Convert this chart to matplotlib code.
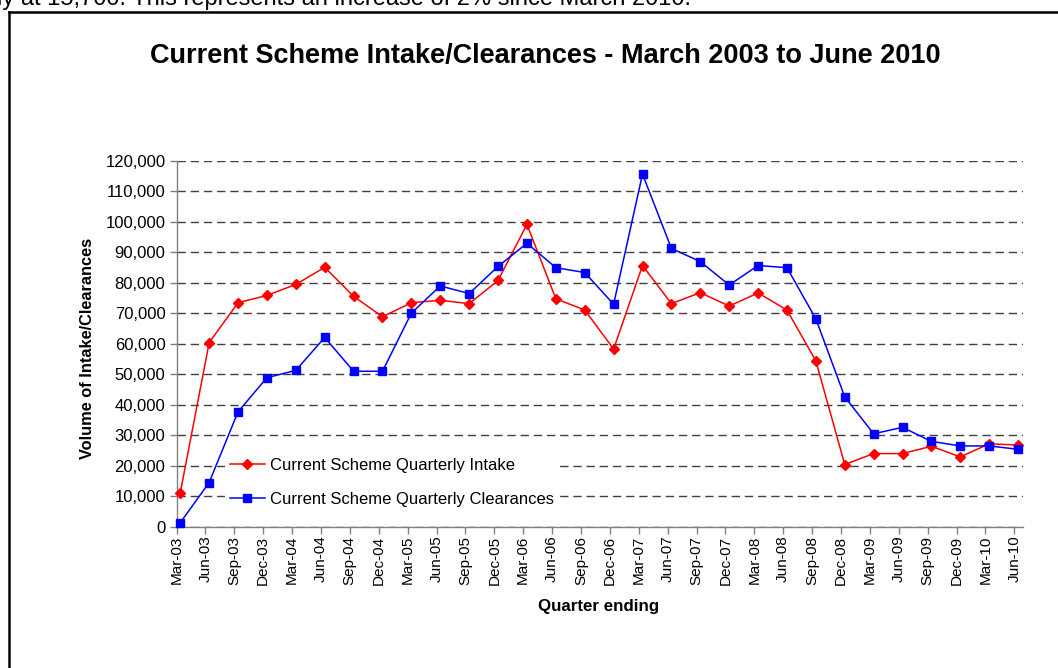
import matplotlib
matplotlib.use("Agg")
import matplotlib.pyplot as plt
from matplotlib.lines import Line2D
from matplotlib.ticker import FuncFormatter, MultipleLocator

plt.rcParams['font.family'] = ['Liberation Sans', 'DejaVu Sans']
plt.rcParams['lines.scale_dashes'] = False

quarters = ["Mar-03", "Jun-03", "Sep-03", "Dec-03", "Mar-04", "Jun-04", "Sep-04", "Dec-04",
            "Mar-05", "Jun-05", "Sep-05", "Dec-05", "Mar-06", "Jun-06", "Sep-06", "Dec-06",
            "Mar-07", "Jun-07", "Sep-07", "Dec-07", "Mar-08", "Jun-08", "Sep-08", "Dec-08",
            "Mar-09", "Jun-09", "Sep-09", "Dec-09", "Mar-10", "Jun-10"]

intake = [11100, 60400, 73500, 75900, 79500, 85100, 75600, 68900,
          73500, 74300, 73200, 80800, 99200, 74800, 71100, 58300,
          85700, 73200, 76800, 72400, 76700, 71100, 54400, 20400,
          24000, 24000, 26400, 22900, 27200, 26800]

clearances = [1300, 14500, 37700, 48900, 51300, 62100, 51000, 51000,
              70100, 79000, 76500, 85400, 93000, 85000, 83400, 73000,
              115700, 91300, 87000, 79300, 85700, 85000, 68200, 42600,
              30500, 32600, 28000, 26500, 26500, 25400]

title = "Current Scheme Intake/Clearances - March 2003 to June 2010"
intake_label = "Current Scheme Quarterly Intake"
clear_label = "Current Scheme Quarterly Clearances"
y_label = "Volume of Intake/Clearances"
x_label = "Quarter ending"
top_text = "ly at 15,700. This represents an increase of 2% since March 2010."

W, H = 1058, 668
fig = plt.figure(figsize=(W / 100, H / 100), dpi=100)
fig.patch.set_facecolor("white")

ax = fig.add_axes([176.5 / W, 1 - 526.7 / H, (1023 - 176.5) / W, (526.7 - 161) / H])

ticks = list(range(len(quarters)))
offset = 0.13
xs = [t + offset for t in ticks]

ax.plot(xs, intake, color="#FF0000", lw=1.1, marker="D", ms=5.2, mec="#FF0000",
        mfc="#FF0000", label=intake_label, zorder=3, clip_on=False)
ax.plot(xs, clearances, color="#0000FF", lw=1.1, marker="s", ms=6, mec="#0000FF",
        mfc="#0000FF", label=clear_label, zorder=3, clip_on=False)

ax.set_xlim(0, 29.3)
ax.set_ylim(0, 120000)
ax.yaxis.set_major_locator(MultipleLocator(10000))
ax.yaxis.set_major_formatter(FuncFormatter(lambda v, p: f"{int(v):,}"))
ax.set_xticks(ticks)
ax.set_xticklabels(quarters, rotation=90, fontsize=11)
ax.tick_params(axis="y", labelsize=12, length=5, width=1, color="#808080", pad=3)
ax.tick_params(axis="x", length=5, width=1, color="#808080", pad=1.5)

ax.grid(axis="y", color="#404040", lw=1.0, linestyle=(0, (6, 3.5)))
ax.set_axisbelow(True)
for s in ["top", "right"]:
    ax.spines[s].set_visible(False)
for s in ["left", "bottom"]:
    ax.spines[s].set_color("#808080")
    ax.spines[s].set_linewidth(1.0)

leg = ax.legend(loc="center left", bbox_to_anchor=(0.057, 0.122), frameon=True,
                fontsize=12, handlelength=2.1, labelspacing=1.14, borderpad=0.3,
                handletextpad=0.3, borderaxespad=0)
leg.get_frame().set_facecolor("white")
leg.get_frame().set_edgecolor("none")
leg.get_frame().set_alpha(1)

fig.text(545 / W, 1 - 63 / H, title, ha="center", va="baseline", fontsize=19.5,
         fontweight="bold")
fig.text(87 / W, 1 - 348.5 / H, y_label, ha="center", va="center", rotation=90,
         fontsize=11.8, fontweight="bold")
fig.text(599 / W, 1 - 607 / H, x_label, ha="center", va="center", fontsize=12.2,
         fontweight="bold")
fig.text(-3 / W, 1 - 5 / H, top_text, ha="left", va="baseline", fontsize=17)

fig.add_artist(Line2D([8.5 / W, 1.0], [1 - 11.5 / H, 1 - 11.5 / H], color="black", lw=1.8,
                      transform=fig.transFigure))
fig.add_artist(Line2D([8.5 / W, 8.5 / W], [1 - 11.5 / H, 0.0], color="black", lw=1.8,
                      transform=fig.transFigure))

fig.savefig("out.png", dpi=100)
